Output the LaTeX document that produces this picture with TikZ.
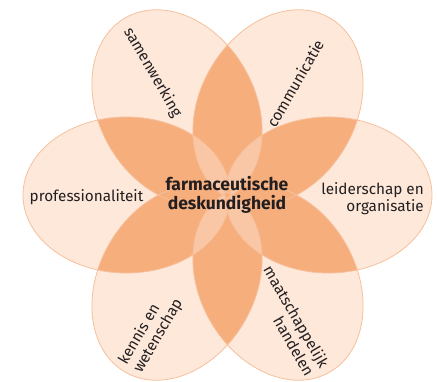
\documentclass[tikz,border=0pt]{standalone}
\usepackage{fontspec}
\setmainfont{Fira Sans}
\definecolor{petallight}{HTML}{FDE8DA}
\definecolor{petaldark}{HTML}{F6AE7C}
\definecolor{petalmid}{HTML}{FAC7A6}
\definecolor{petalline}{HTML}{F7C09C}
\definecolor{labeltext}{HTML}{231F20}
\tikzset{
  label/.style={text=labeltext, inner sep=0pt, font=\fontsize{15.3}{17}\selectfont},
  core/.style={label, font=\fontsize{17.5}{18.5}\selectfont\bfseries, align=center}
}
\begin{document}
\begin{tikzpicture}[x=1pt, y=1pt]
\useasboundingbox (-227.5,-186) rectangle (209.5,195);
\foreach \a in {0,60,...,300}
  \fill[petallight, rotate=\a] (101,0) ellipse (103.5 and 78);
\foreach \a in {0,60,...,300} {
  \begin{scope}[rotate=\a]
    \clip (101,0) ellipse (103.5 and 78);
    \fill[petaldark, rotate=60] (101,0) ellipse (103.5 and 78);
  \end{scope}
}
\foreach \a in {60,120,240,300} {
  \begin{scope}[rotate=\a]
    \clip[rotate=-60] (101,0) ellipse (103.5 and 78);
    \clip (101,0) ellipse (103.5 and 78);
    \fill[petalmid, rotate=60] (101,0) ellipse (103.5 and 78);
  \end{scope}
}
\begin{scope}
  \clip (101,0) ellipse (103.5 and 78);
  \fill[petaldark, rotate=180] (101,0) ellipse (103.5 and 78);
\end{scope}
\foreach \a in {0,60,...,300}
  \draw[petalline, line width=0.8pt, rotate=\a] (101,0) ellipse (103.5 and 78);
\node[label, rotate=-60] (samen) at (-75,122.5) {samenwerking};
\node[label, rotate=60] (comm) at (67.5,111.5) {communicatie};
\node[label] (prof) at (-141,-2) {professionaliteit};
\node[label, anchor=east, align=right] (leider) at (196.5,-4) {leiderschap en\\organisatie};
\node[label, rotate=60, align=left] (kennis) at (-76.6,-136.7) {kennis en\\wetenschap};
\node[label, rotate=-60, align=right] (maat) at (61.7,-125.7) {maatschappelijk\\handelen};
\node[core] (farma) at (-0.5,0) {farmaceutische\\deskundigheid};
\end{tikzpicture}
\end{document}
